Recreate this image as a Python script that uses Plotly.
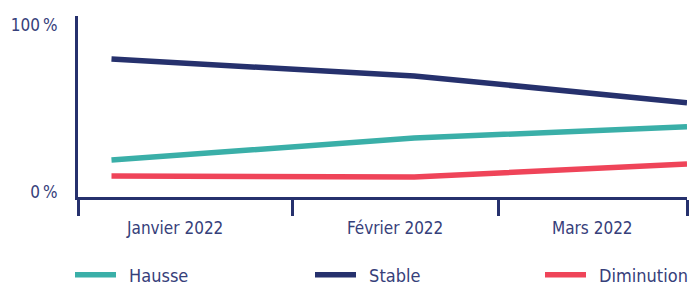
import plotly.graph_objects as go

months = ["Janvier 2022", "Février 2022", "Mars 2022"]
series_names = ["Hausse", "Stable", "Diminution"]
point_x = [5.5, 55.2, 100.0]          # positions of the survey points along the axis (% of span)
hausse = [19.2, 32.3, 39.1]
stable = [79.6, 69.5, 53.5]
diminution = [9.6, 9.0, 16.8]
boundaries = [0, 35.3, 69.1, 100]
label_pos = [15.8, 52.0, 84.5]
y_ticks = [0, 100]
y_ticktext = ["0\u202f%", "100\u202f%"]

NAVY = "#26316d"
TEAL = "#3aafa8"
RED = "#ef4459"
TXT = "#36407a"
FONT = "DejaVu Sans Condensed, Liberation Sans Narrow, sans-serif"

fig = go.Figure()
colors = [TEAL, NAVY, RED]
data = [hausse, stable, diminution]
legends = ["legend", "legend2", "legend3"]
for name, vals, col, lg in zip(series_names, data, colors, legends):
    fig.add_trace(go.Scatter(x=point_x, y=vals, mode="lines", name="\u2002" + name,
                             line=dict(color=col, width=5.5), legend=lg,
                             hoverinfo="skip"))

annotations = [dict(x=p, y=-0.171, xref="x", yref="paper", text=m, showarrow=False,
                    xanchor="center", yanchor="middle",
                    font=dict(family=FONT, size=17, color=TXT))
               for p, m in zip(label_pos, months)]

leg_common = dict(orientation="h", yanchor="middle", y=-0.431, xanchor="left",
                  font=dict(family=FONT, size=18, color=TXT), bgcolor="rgba(0,0,0,0)",
                  borderwidth=0, itemwidth=41)

fig.update_layout(
    width=689, height=285,
    margin=dict(l=78, r=2, t=16, b=88, autoexpand=False),
    paper_bgcolor="white", plot_bgcolor="white",
    showlegend=True,
    legend=dict(leg_common, x=(77 - 78 - 7) / 609),
    legend2=dict(leg_common, x=(317 - 78 - 7) / 609),
    legend3=dict(leg_common, x=(547 - 78 - 7) / 609),
    annotations=annotations,
    xaxis=dict(range=[0, 100], showgrid=False, zeroline=False, showline=True,
               linecolor=NAVY, linewidth=3, tickmode="array", tickvals=boundaries,
               ticktext=["", "", "", ""], ticks="outside", ticklen=16, tickwidth=3,
               tickcolor=NAVY, fixedrange=True),
    yaxis=dict(range=[-3.0, 105.4], showgrid=False, zeroline=False, showline=True,
               linecolor=NAVY, linewidth=3, tickmode="array", tickvals=y_ticks,
               ticktext=y_ticktext, ticks="", ticklabelstandoff=14,
               tickfont=dict(family=FONT, size=17, color=TXT), fixedrange=True),
)

fig.write_html("out.html", config={"displayModeBar": False},
               post_script="document.body.style.margin='0';document.body.style.padding='0';")
